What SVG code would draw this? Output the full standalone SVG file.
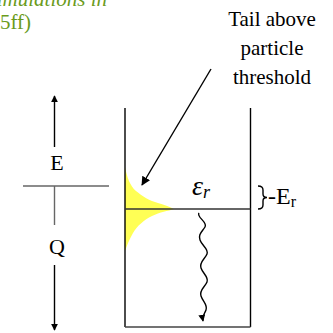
<svg xmlns="http://www.w3.org/2000/svg" width="333" height="333" viewBox="0 0 333 333">
<style>
text{font-family:"Liberation Serif","Times New Roman",serif;fill:#000}
.ln{stroke:#000;stroke-width:1.4;fill:none}
.gr{stroke:#666;stroke-width:1.4;fill:none}
</style>
<defs>
<marker id="ah" viewBox="0 0 10 10" refX="9" refY="5" markerWidth="7" markerHeight="7" orient="auto" markerUnits="userSpaceOnUse">
<path d="M0,0 L10,5 L0,10 z" fill="#000"/>
</marker>
<marker id="ah2" viewBox="0 0 10 10" refX="9" refY="5" markerWidth="9" markerHeight="9" orient="auto" markerUnits="userSpaceOnUse">
<path d="M0,0 L10,5 L0,10 z" fill="#000"/>
</marker>
</defs>
<g id="caption">
<text x="107" y="6" text-anchor="end" font-size="21" font-style="italic" style="fill:#6a9b1c">simulations in</text>
<text x="0" y="29" font-size="21" style="fill:#6a9b1c">5ff)</text>
</g>
<g id="tail-label">
<text x="272" y="26" text-anchor="middle" font-size="21">Tail above</text>
<text x="272" y="55" text-anchor="middle" font-size="21">particle</text>
<text x="272" y="84" text-anchor="middle" font-size="21">threshold</text>
</g>
<g id="axis">
<line class="gr" x1="23" y1="186" x2="109" y2="186"/>
<line class="gr" x1="54.5" y1="186" x2="54.5" y2="225"/>
<text x="57" y="170" text-anchor="middle" font-size="22">E</text>
<text x="57" y="254" text-anchor="middle" font-size="22">Q</text>
</g>
<g id="well">
<path d="M125,167 C127,177 130,186 136,191 C142,196 150,201 158,203 C165,205 170,207 174,209 C168,211 160,212 152,216 C144,220 137,226 133,233 C129,240 127,245 125,251 Z" fill="#ffff55"/>
<line class="ln" x1="125" y1="108" x2="125" y2="327"/>
<line class="ln" x1="250.5" y1="108" x2="250.5" y2="327"/>
<line class="gr" x1="125" y1="327" x2="250.5" y2="327" style="stroke:#444"/>
<line class="ln" x1="125" y1="209" x2="250.5" y2="209" style="stroke:#333"/>
<text x="192" y="195" font-size="28" font-style="italic">ε<tspan font-size="18" dy="3">r</tspan></text>
</g>
<g id="er-label">
<path class="ln" d="M258,186 Q263,186 263,190 L263,194 Q263,197.5 267,197.5 Q263,197.5 263,201 L263,205 Q263,209 258,209" stroke-width="1.2"/>
<text x="268" y="204" font-size="24">-E<tspan font-size="16" dy="3">r</tspan></text>
</g>
<g id="connectors">
<line class="ln" x1="211" y1="69" x2="142" y2="185" marker-end="url(#ah2)" stroke-width="1.8"/>
<line class="ln" x1="54.5" y1="147" x2="54.5" y2="96" marker-end="url(#ah)" stroke-width="1.8"/>
<line class="ln" x1="54.5" y1="265" x2="54.5" y2="330" marker-end="url(#ah)" stroke-width="1.8"/>
<path class="ln" stroke-width="1" d="M199,213 C196,217 208,222 205,227 C202,232 198,234 200,240 C202,246 209,249 207,254 C205,259 199,262 201,268 C203,274 209,277 207,282 C205,287 199,290 201,296 C203,302 208,305 206,310 C204,315 202,316 203,321" marker-end="url(#ah)"/>
</g>
</svg>
